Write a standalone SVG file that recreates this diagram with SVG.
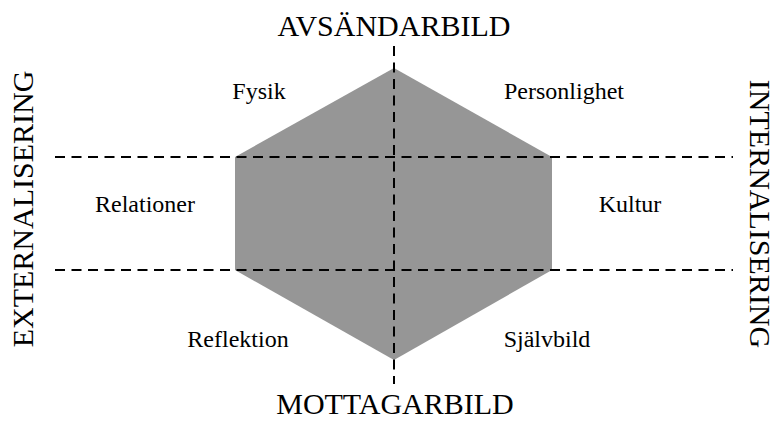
<svg xmlns="http://www.w3.org/2000/svg" width="771" height="422" viewBox="0 0 771 422">
<style>
.big{font-family:"Liberation Serif","Times New Roman",serif;font-size:30px;fill:#000;text-anchor:middle}
.lbl{font-family:"Liberation Serif","Times New Roman",serif;font-size:24px;fill:#000;text-anchor:middle}
.dash{stroke:#000;stroke-width:2;stroke-dasharray:10 6.5;fill:none}
</style>
<rect width="771" height="422" fill="#fff"/>
<g id="hexagon">
<polygon points="394,68 552,157 552,270 394,360 235,270 235,157" fill="#969696"/>
</g>
<g id="connectors">
<line class="dash" x1="55" y1="157" x2="733" y2="157"/>
<line class="dash" x1="55" y1="270" x2="733" y2="270"/>
<line class="dash" x1="394" y1="46" x2="394" y2="384"/>
</g>
<g id="axis-top"><text class="big" x="394" y="36">AVSÄNDARBILD</text></g>
<g id="axis-bottom"><text class="big" x="395" y="414">MOTTAGARBILD</text></g>
<g id="axis-left"><text class="big" transform="translate(33,209) rotate(-90)">EXTERNALISERING</text></g>
<g id="axis-right"><text class="big" transform="translate(750,214) rotate(90)">INTERNALISERING</text></g>
<g id="fysik"><text class="lbl" x="259" y="99">Fysik</text></g>
<g id="personlighet"><text class="lbl" x="564" y="99">Personlighet</text></g>
<g id="relationer"><text class="lbl" x="145" y="212">Relationer</text></g>
<g id="kultur"><text class="lbl" x="630" y="212">Kultur</text></g>
<g id="reflektion"><text class="lbl" x="238" y="347">Reflektion</text></g>
<g id="sjalvbild"><text class="lbl" x="547" y="347">Självbild</text></g>
</svg>
